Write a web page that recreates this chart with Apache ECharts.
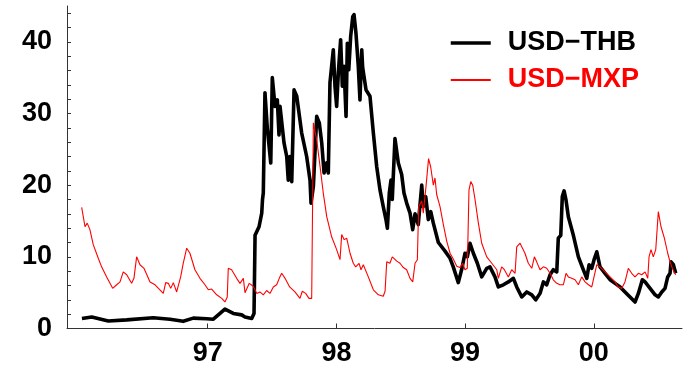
<!DOCTYPE html>
<html>
<head>
<meta charset="utf-8">
<script src="https://cdn.jsdelivr.net/npm/echarts@6/dist/echarts.min.js"></script>
<style>
html,body{margin:0;padding:0;background:#fff;}
#chart{width:684px;height:368px;}
</style>
</head>
<body>
<div id="chart"></div>
<script>
// Decimal years and values, USD-THB (black)
var thbYears = [1996.023,1996.099,1996.228,1996.371,1996.577,1996.707,1996.810,1996.888,1996.992,1997.044,1997.134,1997.199,1997.264,1997.290,1997.342,1997.360,1997.368,1997.399,1997.420,1997.426,1997.432,1997.445,1997.463,1997.490,1997.502,1997.523,1997.541,1997.554,1997.562,1997.593,1997.614,1997.626,1997.639,1997.653,1997.671,1997.692,1997.730,1997.769,1997.795,1997.803,1997.821,1997.847,1997.867,1997.886,1997.904,1997.925,1997.937,1997.950,1997.963,1997.976,1997.989,1998.002,1998.015,1998.033,1998.046,1998.059,1998.075,1998.085,1998.096,1998.111,1998.127,1998.137,1998.152,1998.170,1998.183,1998.197,1998.204,1998.214,1998.230,1998.261,1998.287,1998.313,1998.339,1998.364,1998.385,1998.396,1998.411,1998.424,1998.434,1998.455,1998.481,1998.507,1998.525,1998.546,1998.572,1998.593,1998.611,1998.636,1998.663,1998.675,1998.694,1998.714,1998.733,1998.753,1998.792,1998.844,1998.883,1998.908,1998.947,1998.974,1998.999,1999.017,1999.038,1999.064,1999.095,1999.129,1999.168,1999.193,1999.232,1999.258,1999.297,1999.336,1999.375,1999.401,1999.440,1999.479,1999.518,1999.549,1999.582,1999.608,1999.634,1999.660,1999.685,1999.712,1999.724,1999.743,1999.755,1999.769,1999.784,1999.802,1999.841,1999.880,1999.918,1999.945,1999.963,1999.984,2000.002,2000.023,2000.048,2000.087,2000.126,2000.165,2000.204,2000.242,2000.281,2000.320,2000.346,2000.377,2000.398,2000.437,2000.476,2000.501,2000.528,2000.553,2000.574,2000.592,2000.600,2000.618,2000.636];
var thbValues = [1.4,1.6,1.05,1.2,1.5,1.3,1.0,1.45,1.35,1.3,2.7,2.1,1.9,1.6,1.4,2.1,13.0,14.2,16.1,18.0,18.9,32.9,28.0,23.1,35.0,31.0,31.9,27.0,31.0,25.9,24.0,20.7,24.0,20.5,33.3,32.4,27.3,24.0,20.7,17.5,19.8,29.6,28.7,25.9,21.7,23.1,21.7,34.3,36.6,38.9,33.8,31.0,35.7,40.3,33.8,36.6,29.6,39.8,36.1,40.8,43.5,43.8,41.2,36.6,31.9,38.9,36.4,36.6,33.3,32.4,27.3,22.6,19.3,17.0,15.2,14.0,18.9,20.7,18.0,26.5,23.1,21.5,18.9,17.5,16.1,13.8,16.0,14.5,20.0,17.0,18.4,15.2,16.3,14.7,12.0,10.8,9.8,8.6,6.4,8.3,10.5,10.0,11.9,10.5,9.1,7.2,8.4,8.6,7.2,5.8,6.1,6.5,7.0,5.8,4.4,5.1,4.7,4.0,4.9,6.5,6.1,7.5,8.2,7.9,12.6,13.0,18.4,19.2,17.9,15.6,13.0,10.0,8.2,7.0,8.9,8.4,9.6,10.7,8.6,7.7,6.8,6.3,5.8,5.1,4.4,3.7,4.9,6.8,6.5,5.6,4.7,4.4,5.1,5.6,7.2,7.7,9.3,8.9,7.7];

// Decimal years and values, USD-MXP (red)
var mxpYears = [1996.021,1996.047,1996.064,1996.085,1996.111,1996.150,1996.176,1996.215,1996.262,1996.293,1996.319,1996.344,1996.371,1996.409,1996.427,1996.448,1996.474,1996.505,1996.552,1996.591,1996.629,1996.655,1996.674,1996.694,1996.713,1996.733,1996.759,1996.790,1996.810,1996.837,1996.862,1996.901,1996.940,1996.979,1997.005,1997.031,1997.070,1997.109,1997.134,1997.152,1997.160,1997.186,1997.225,1997.251,1997.277,1997.290,1997.323,1997.354,1997.381,1997.406,1997.432,1997.458,1997.484,1997.510,1997.536,1997.556,1997.575,1997.601,1997.637,1997.678,1997.717,1997.735,1997.761,1997.787,1997.808,1997.821,1997.847,1997.873,1997.898,1997.925,1997.963,1998.002,1998.028,1998.041,1998.061,1998.080,1998.106,1998.131,1998.150,1998.176,1998.191,1998.209,1998.248,1998.287,1998.326,1998.364,1998.378,1998.391,1998.416,1998.434,1998.469,1998.494,1998.520,1998.546,1998.572,1998.593,1998.611,1998.629,1998.639,1998.663,1998.675,1998.696,1998.716,1998.733,1998.753,1998.766,1998.779,1998.805,1998.831,1998.857,1998.883,1998.908,1998.935,1998.960,1998.981,1998.999,1999.017,1999.030,1999.044,1999.059,1999.077,1999.103,1999.129,1999.168,1999.207,1999.246,1999.258,1999.284,1999.305,1999.336,1999.362,1999.388,1999.401,1999.427,1999.440,1999.465,1999.491,1999.518,1999.538,1999.556,1999.582,1999.608,1999.634,1999.660,1999.685,1999.712,1999.737,1999.763,1999.784,1999.802,1999.828,1999.854,1999.880,1999.906,1999.932,1999.958,1999.984,2000.023,2000.048,2000.087,2000.126,2000.165,2000.190,2000.217,2000.242,2000.268,2000.294,2000.320,2000.346,2000.372,2000.398,2000.419,2000.429,2000.444,2000.462,2000.481,2000.493,2000.501,2000.522,2000.548,2000.574,2000.592,2000.610,2000.636];
var mxpValues = [16.9,14.2,14.7,13.8,11.7,9.8,8.6,7.2,5.6,6.1,6.5,7.9,7.5,6.3,7.0,10.0,8.9,8.4,6.5,6.1,5.4,4.9,6.4,6.3,5.6,6.4,5.1,7.2,9.1,11.2,10.5,8.2,7.0,6.1,5.4,5.5,4.7,4.2,3.7,4.4,8.4,8.2,7.0,6.3,7.0,5.0,6.3,5.9,4.9,5.1,4.7,5.3,4.9,5.8,6.1,7.0,7.7,7.0,5.8,5.1,4.2,5.2,4.9,4.2,4.2,28.7,26.3,22.6,18.9,15.6,12.8,11.0,9.6,13.1,12.4,12.6,10.5,9.1,8.6,9.1,8.2,8.9,7.2,5.4,4.7,4.5,5.2,9.3,9.1,10.0,9.4,9.1,8.5,8.2,7.0,6.5,9.1,9.6,17.0,17.8,16.1,19.8,23.7,22.5,20.0,21.0,18.7,17.0,14.5,12.2,10.5,9.7,8.7,8.5,9.1,8.2,8.4,19.3,20.5,20.0,18.0,14.7,11.9,10.0,9.1,8.2,7.0,8.6,8.2,7.2,8.2,7.7,11.4,11.9,11.4,10.5,9.1,8.4,10.0,9.3,8.2,8.6,8.4,7.7,6.8,6.3,6.1,6.1,7.7,7.2,7.0,6.8,6.1,7.2,6.5,6.1,5.8,8.9,8.6,7.9,7.2,6.5,5.8,5.6,6.5,8.4,7.7,7.2,7.7,7.5,7.9,7.0,10.0,11.0,10.0,11.0,11.1,16.3,14.2,12.6,10.5,9.3,8.4,7.5];

var seriesNames = ['USD\u2212THB', 'USD\u2212MXP'];
var xTickValues = [1997, 1998, 1999, 2000];
var xTickLabels = ['97', '98', '99', '00'];
var yLabelValues = [0, 10, 20, 30, 40];
var yTickValues = [0,2,4,6,8,10,12,14,16,18,20,22,24,26,28,30,32,34,36,38,40,42,44];

function pairs(xs, ys) {
  var out = [];
  for (var i = 0; i < xs.length; i++) out.push([xs[i], ys[i]]);
  return out;
}

var chart = echarts.init(document.getElementById('chart'), null, {renderer: 'canvas'});
var fontFam = '"Liberation Sans", Arial, Helvetica, sans-serif';
chart.setOption({
  animation: false,
  backgroundColor: '#ffffff',
  grid: {left: 67, right: 2, top: 6, bottom: 39.5, containLabel: false},
  legend: {
    left: 444, top: 23, orient: 'vertical',
    itemWidth: 40, itemHeight: 14, itemGap: 7,
    itemStyle: {opacity: 0},
    textStyle: {fontFamily: fontFam, fontWeight: 'bold', fontSize: 27, lineHeight: 30, padding: [0, 0, 0, 12]},
    data: [
      {name: seriesNames[0], textStyle: {color: '#000000'}, itemStyle: {opacity: 0}, lineStyle: {color: '#000000', width: 3.5}},
      {name: seriesNames[1], textStyle: {color: '#ff0000'}, itemStyle: {opacity: 0}, lineStyle: {color: '#ff0000', width: 2}}
    ]
  },
  xAxis: {
    type: 'value', min: 1995.907, max: 2000.685,
    axisLine: {show: true, onZero: false, lineStyle: {color: '#333', width: 1}},
    axisTick: {show: true, inside: true, length: 5, customValues: xTickValues, lineStyle: {color: '#333'}},
    axisLabel: {
      customValues: xTickValues, margin: 12,
      fontFamily: fontFam, fontWeight: 'bold', fontSize: 27, color: '#000',
      formatter: function (v) { var i = xTickValues.indexOf(Math.round(v)); return i >= 0 ? xTickLabels[i] : ''; }
    },
    splitLine: {show: false}
  },
  yAxis: {
    type: 'value', min: 0, max: 45,
    axisLine: {show: true, lineStyle: {color: '#333', width: 1}},
    axisTick: {show: true, inside: true, length: 4, customValues: yTickValues, lineStyle: {color: '#333'}},
    axisLabel: {
      customValues: yLabelValues, margin: 15,
      fontFamily: fontFam, fontWeight: 'bold', fontSize: 27, color: '#000'
    },
    splitLine: {show: false}
  },
  series: [
    {name: seriesNames[0], type: 'line', symbol: 'none', showSymbol: false,
     data: pairs(thbYears, thbValues), color: '#000000',
     lineStyle: {color: '#000000', width: 3.6, join: 'round'}},
    {name: seriesNames[1], type: 'line', symbol: 'none', showSymbol: false,
     data: pairs(mxpYears, mxpValues), color: '#ff0000',
     lineStyle: {color: '#ff0000', width: 1.1}}
  ]
});
</script>
</body>
</html>
